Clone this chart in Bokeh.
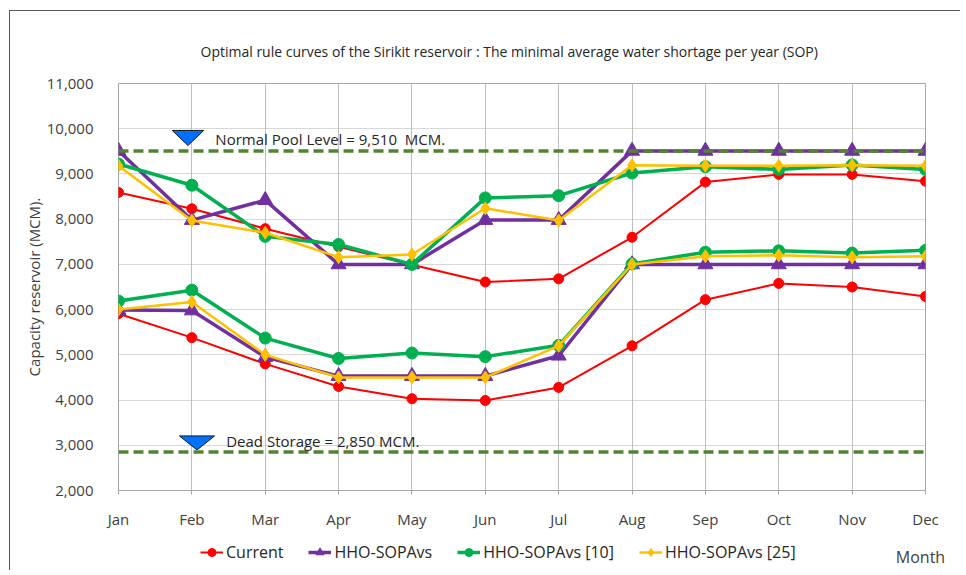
from bokeh.plotting import figure
from bokeh.layouts import column, row
from bokeh.models import (Range1d, FixedTicker, NumeralTickFormatter,
                          Label, Legend, LegendItem, Span)
from bokeh.embed import file_html
from bokeh.resources import INLINE

# ---------------- data ----------------
months = ["Jan", "Feb", "Mar", "Apr", "May", "Jun", "Jul", "Aug", "Sep", "Oct", "Nov", "Dec"]
current_upper = [8590, 8230, 7790, 7390, 6990, 6610, 6680, 7600, 8820, 8990, 8990, 8840]
current_lower = [5910, 5380, 4800, 4300, 4030, 3990, 4280, 5200, 6220, 6580, 6500, 6290]
sopavs_upper = [9510, 7980, 8420, 7000, 7000, 7980, 7980, 9510, 9510, 9510, 9510, 9510]
sopavs_lower = [5990, 5980, 4950, 4530, 4530, 4530, 4980, 7000, 7000, 7000, 7000, 7000]
sop10_upper = [9220, 8750, 7620, 7440, 7000, 8470, 8520, 9020, 9160, 9100, 9200, 9100]
sop10_lower = [6190, 6430, 5370, 4920, 5040, 4960, 5210, 7010, 7270, 7300, 7250, 7310]
sop25_upper = [9180, 7970, 7700, 7160, 7220, 8240, 7970, 9190, 9180, 9180, 9190, 9180]
sop25_lower = [6000, 6170, 5000, 4500, 4500, 4500, 5200, 7000, 7180, 7200, 7160, 7180]
normal_pool = 9510
dead_storage = 2850
y_ticks = list(range(2000, 11001, 1000))

FONT = "Open Sans"
TXT = "#404040"
x = list(range(len(months)))

p = figure(width=950, height=527, output_backend="svg", toolbar_location=None,
           x_range=Range1d(0, len(months) - 1), y_range=Range1d(2000, 11000))
p.min_border_left = 108
p.min_border_right = 35
p.min_border_top = 72
p.min_border_bottom = 48
p.background_fill_color = "white"
p.border_fill_color = "white"
p.outline_line_color = "#a6a6a6"
p.outline_line_width = 1

p.title.text = "Optimal rule curves of the Sirikit reservoir : The minimal average water shortage per year (SOP)"
p.title.text_font = FONT
p.title.text_font_size = "14px"
p.title.text_font_style = "normal"
p.title.text_color = "#262626"
p.title.align = "left"
p.title.offset = 82
p.title.standoff = 45

# axes
xa = p.xaxis[0]
xa.ticker = FixedTicker(ticks=x)
xa.major_label_overrides = {i: m for i, m in enumerate(months)}
xa.major_label_text_font = FONT
xa.major_label_text_font_size = "15px"
xa.major_label_text_color = TXT
xa.major_tick_in = 0
xa.major_tick_out = 4
xa.major_tick_line_color = "#a6a6a6"
xa.minor_tick_line_color = None
xa.axis_line_color = "#a6a6a6"
xa.major_label_standoff = 14

ya = p.yaxis[0]
ya.ticker = FixedTicker(ticks=y_ticks)
ya.formatter = NumeralTickFormatter(format="0,0")
ya.major_label_text_font = FONT
ya.major_label_text_font_size = "15px"
ya.major_label_text_color = TXT
ya.major_tick_line_color = None
ya.minor_tick_line_color = None
ya.axis_line_color = None
ya.major_label_standoff = 19
ya.axis_label = "Capacity reservoir (MCM)."
ya.axis_label_text_font = FONT
ya.axis_label_text_font_size = "15px"
ya.axis_label_text_font_style = "normal"
ya.axis_label_text_color = TXT
ya.axis_label_standoff = 0

p.xgrid.grid_line_color = "#bfbfbf"
p.xgrid.grid_line_width = 1
p.ygrid.grid_line_color = "#b0b0b0"
p.ygrid.grid_line_dash = "1 1"
p.ygrid.grid_line_width = 1

# reference levels
for lvl in (normal_pool, dead_storage):
    p.add_layout(Span(location=lvl, dimension="width", line_color="#548235",
                      line_width=3.5, line_dash="10 5"))

# level markers (inverted triangles) and labels
def level_marker(cx, top, tip, hw):
    p.patch([cx - hw, cx + hw, cx], [top, top, tip], fill_color="#0070FF",
            line_color="#1a1a1a", line_width=1)

level_marker(0.947, 9962, 9629, 0.215)
level_marker(1.07, 3207, 2896, 0.24)
p.add_layout(Label(x=1.32, y=9762, text="Normal Pool Level = 9,510\u00a0\u00a0MCM.", text_font=FONT,
                   text_font_size="15px", text_color="#262626", text_baseline="middle"))
p.add_layout(Label(x=1.468, y=3096, text="Dead Storage = 2,850 MCM.", text_font=FONT,
                   text_font_size="15px", text_color="#262626", text_baseline="middle"))

# series
series = [
    ("Current", current_upper, current_lower, "#FF0000", 2, "circle", 10),
    ("HHO-SOPAvs", sopavs_upper, sopavs_lower, "#7030A0", 3.5, "triangle", 15),
    ("HHO-SOPAvs [10]", sop10_upper, sop10_lower, "#00B050", 3.5, "circle", 12),
    ("HHO-SOPAvs [25]", sop25_upper, sop25_lower, "#FFC000", 2.5, "diamond", 13),
]
for name, up, lo, col, lw, mk, sz in series:
    for vals in (lo, up):
        p.line(x, vals, line_color=col, line_width=lw)
        p.scatter(x, vals, marker=mk, size=sz, fill_color=col, line_color=col)

# ---- legend strip (second figure below) ----
q = figure(width=950, height=32, output_backend="svg", toolbar_location=None,
           x_range=Range1d(0, 950), y_range=Range1d(0, 32),
           min_border_left=0, min_border_right=0, min_border_top=0, min_border_bottom=0,
           x_axis_location=None, y_axis_location=None)
q.grid.visible = False
q.outline_line_color = None
q.border_fill_color = "white"
items = []
for name, up, lo, col, lw, mk, sz in series:
    # legend proxies placed outside the visible strip
    l = q.line([-100, -90], [-100, -100], line_color=col, line_width=lw)
    s = q.scatter([-100], [-100], marker=mk, size=sz * 0.9, fill_color=col, line_color=col)
    items.append(LegendItem(label=name, renderers=[l, s]))
legend = Legend(items=items, orientation="horizontal", location=(190, 7),
                label_text_font=FONT, label_text_font_size="16px", label_text_color="#262626",
                glyph_width=23, glyph_height=20, label_height=20, label_standoff=3,
                spacing=25, padding=0, margin=0, border_line_color=None,
                background_fill_alpha=0)
q.add_layout(legend, "center")
q.add_layout(Label(x=910, y=14, text="Month", text_font=FONT, text_font_size="16px",
                   text_color=TXT, text_align="center", text_baseline="middle"))

layout = column(p, row(q), spacing=0)
layout.styles = {"position": "relative", "left": "9px", "top": "10px",
                 "border-top": "1px solid #595959", "border-left": "1px solid #595959"}
open("out.html", "w").write(file_html(layout, INLINE))
